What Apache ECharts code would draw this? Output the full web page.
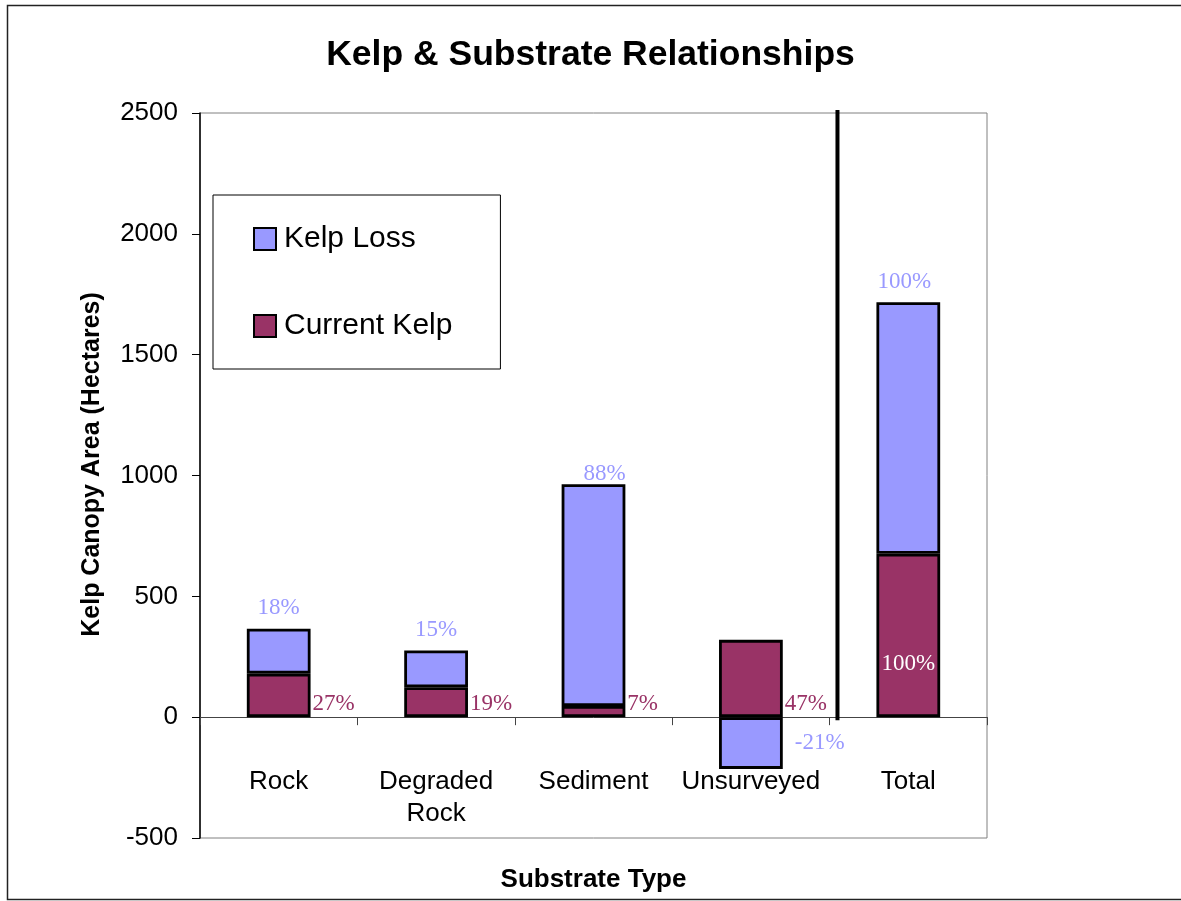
<!DOCTYPE html>
<html>
<head>
<meta charset="utf-8">
<script src="https://cdn.jsdelivr.net/npm/echarts@6/dist/echarts.min.js"></script>
<style>
  html, body { margin: 0; padding: 0; background: #fff; }
  #chart { width: 1181px; height: 901px; }
</style>
</head>
<body>
<div id="chart"></div>
<script>
// ---- Data ----
const categories = ['Rock', 'Degraded\nRock', 'Sediment', 'Unsurveyed', 'Total'];
const currentKelp = [180, 124, 46, 320, 676];
const kelpLoss = [186, 152, 918, -214, 1041];
const lossPctLabels = ['18%', '15%', '88%', '-21%', '100%'];
const currentPctLabels = ['27%', '19%', '7%', '47%', '100%'];
const yTicks = { min: -500, max: 2500, interval: 500 };

const SANS = "'Liberation Sans', Arial, sans-serif";
const SERIF = "'Liberation Serif', 'Times New Roman', serif";
const LOSS_COLOR = '#9999FF';
const CURRENT_COLOR = '#993366';

const chart = echarts.init(document.getElementById('chart'), null, { renderer: 'canvas' });

const pctBase = { show: true, fontFamily: SERIF, fontSize: 23 };

const currentData = currentKelp.map((v, i) => {
  const isTotal = i === categories.length - 1;
  return {
    value: v,
    label: isTotal ? {
      ...pctBase,
      formatter: currentPctLabels[i],
      color: '#ffffff',
      position: ['50%', '100%'],
      align: 'center',
      verticalAlign: 'middle',
      offset: [0, -53]
    } : {
      ...pctBase,
      formatter: currentPctLabels[i],
      color: CURRENT_COLOR,
      position: ['100%', '100%'],
      align: 'left',
      verticalAlign: 'bottom',
      offset: [2, -2]
    }
  };
});

const lossData = kelpLoss.map((v, i) => {
  if (v < 0) {
    return {
      value: v,
      label: { ...pctBase, formatter: lossPctLabels[i], color: LOSS_COLOR, position: 'right', distance: 12 }
    };
  }
  const offs = [[0, 0], [0, 0], [11, 10], [0, 0], [-4, 0]];
  return {
    value: v,
    label: { ...pctBase, formatter: lossPctLabels[i], color: LOSS_COLOR, position: 'top', distance: 9, offset: offs[i] }
  };
});

const option = {
  backgroundColor: '#ffffff',
  animation: false,
  title: {
    text: 'Kelp & Substrate Relationships',
    left: 'center',
    top: 32,
    textStyle: { fontFamily: SANS, fontSize: 35.5, fontWeight: 'bold', color: '#000' }
  },
  legend: {
    orient: 'vertical',
    left: 213,
    top: 195,
    padding: [29, 48, 28, 40],
    itemWidth: 22,
    itemHeight: 22,
    itemGap: 57,
    icon: 'rect',
    backgroundColor: '#fff',
    borderColor: '#000',
    borderWidth: 1,
    data: ['Kelp Loss', 'Current Kelp'],
    itemStyle: { borderColor: '#000', borderWidth: 2 },
    textStyle: { fontFamily: SANS, fontSize: 30, color: '#000', lineHeight: 30, padding: [0, 0, 0, 3] }
  },
  grid: {
    left: 200,
    top: 113,
    right: 194,
    bottom: 63,
    outerBoundsMode: 'none',
    containLabel: false,
    show: true,
    borderColor: '#808080',
    borderWidth: 1,
    backgroundColor: '#fff'
  },
  xAxis: {
    type: 'category',
    data: categories,
    name: 'Substrate Type',
    nameLocation: 'middle',
    nameGap: 29,
    nameTextStyle: { fontFamily: SANS, fontSize: 26, fontWeight: 'bold', color: '#000' },
    axisLine: { onZero: true, lineStyle: { color: '#444', width: 1 } },
    axisTick: { show: true, length: 8, alignWithLabel: false, lineStyle: { color: '#444' } },
    axisLabel: { fontFamily: SANS, fontSize: 26, color: '#000', margin: -72, lineHeight: 32, interval: 0 },
    splitLine: { show: false }
  },
  yAxis: {
    type: 'value',
    min: yTicks.min,
    max: yTicks.max,
    interval: yTicks.interval,
    name: 'Kelp Canopy Area (Hectares)',
    nameLocation: 'middle',
    nameGap: 95,
    nameTextStyle: { fontFamily: SANS, fontSize: 25, fontWeight: 'bold', color: '#000', padding: [0, 0, 0, 22] },
    axisLine: { show: true, lineStyle: { color: '#000', width: 1.5 } },
    axisTick: { show: true, length: 8, lineStyle: { color: '#000' } },
    axisLabel: { fontFamily: SANS, fontSize: 26, color: '#000', margin: 22, formatter: (v) => String(v) },
    splitLine: { show: false }
  },
  series: [
    {
      name: 'Current Kelp',
      type: 'bar',
      stack: 'kelp',
      barWidth: '40.5%',
      itemStyle: { color: CURRENT_COLOR, borderColor: '#000', borderWidth: 2.8 },
      data: currentData
    },
    {
      name: 'Kelp Loss',
      type: 'bar',
      stack: 'kelp',
      barWidth: '40.5%',
      itemStyle: { color: LOSS_COLOR, borderColor: '#000', borderWidth: 2.8 },
      data: lossData
    }
  ]
};

chart.setOption(option);

// Separator line between "Unsurveyed" and "Total", placed through the chart's own scales
function drawExtras() {
  const p3 = chart.convertToPixel({ xAxisIndex: 0 }, categories[3]);
  const p4 = chart.convertToPixel({ xAxisIndex: 0 }, categories[4]);
  const yTop = chart.convertToPixel({ yAxisIndex: 0 }, yTicks.max);
  const yZero = chart.convertToPixel({ yAxisIndex: 0 }, 0);
  const xSep = p3 + (p4 - p3) * 0.55;
  chart.setOption({
    graphic: [
      {
        type: 'line',
        z: 100,
        shape: { x1: xSep, y1: yTop - 1, x2: xSep, y2: yZero + 1 },
        style: { stroke: '#000', lineWidth: 4, lineCap: 'square' }
      },
      {
        type: 'rect',
        z: 100,
        silent: true,
        shape: { x: 7.5, y: 5.5, width: 1180, height: 894 },
        style: { fill: 'none', stroke: '#222', lineWidth: 1.5 }
      }
    ]
  });
}
drawExtras();
</script>
</body>
</html>
